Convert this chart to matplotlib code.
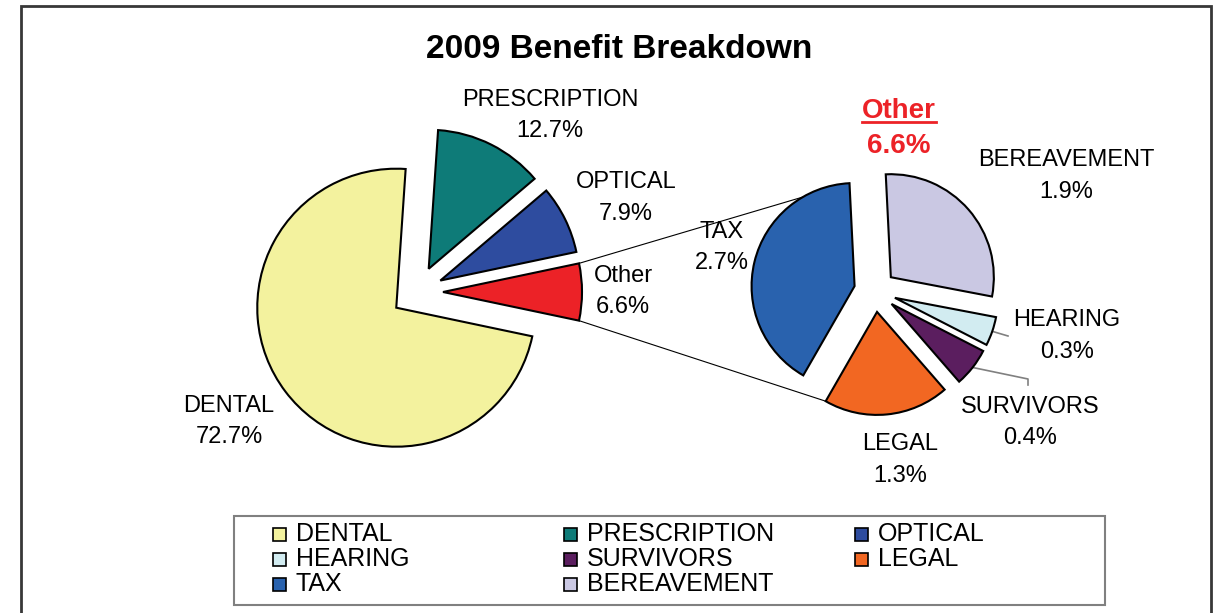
import matplotlib
matplotlib.use("Agg")
import numpy as np
import matplotlib.pyplot as plt
from matplotlib.patches import Rectangle

plt.rcParams["font.family"] = ["Liberation Sans", "DejaVu Sans"]

# ==========================================================
# DATA
# ==========================================================

title = "2009 Benefit Breakdown"

main_labels = ["DENTAL", "PRESCRIPTION", "OPTICAL"]
main_values = [72.7, 12.7, 7.9]

other_name = "Other"
other_labels = ["HEARING", "SURVIVORS", "LEGAL", "TAX", "BEREAVEMENT"]
other_values = [0.3, 0.4, 1.3, 2.7, 1.9]

colors = {
    "DENTAL": "#F3F29E",
    "PRESCRIPTION": "#0E7B78",
    "OPTICAL": "#2E4C9F",
    "Other": "#EC2227",
    "HEARING": "#D2ECF1",
    "SURVIVORS": "#5B1E5F",
    "LEGAL": "#F26722",
    "TAX": "#2962AE",
    "BEREAVEMENT": "#CAC8E3",
}

# ==========================================================
# LAYOUT (pixel units, image y measured from top)
# ==========================================================

W, H = 1223, 613

label_pos = {
    "DENTAL": (229, 411.5),
    "PRESCRIPTION": (550, 105.5),
    "OPTICAL": (626, 188.5),
    "Other": (623, 281.5),
    "TAX": (722, 237.5),
    "BEREAVEMENT": (1066, 166),
    "HEARING": (1067, 326),
    "SURVIVORS": (1030, 413),
    "LEGAL": (900, 450),
}

leader_ends = {
    "HEARING": [(1008, 336)],
    "SURVIVORS": [(1028, 379), (1028, 385)],
}


def iy(y):
    return H - y


fig = plt.figure(figsize=(W / 100, H / 100), dpi=100)
ax = fig.add_axes([0, 0, 1, 1])

edge = dict(edgecolor="black", linewidth=1.5)

# main pie
main_vals = main_values + [round(sum(other_values), 1)]
main_names = main_labels + [other_name]
main_start = -0.5 * 360 * main_vals[-1] / sum(main_vals)

wedges1, _ = ax.pie(
    main_vals,
    colors=[colors[n] for n in main_names],
    explode=[26] * len(main_vals),
    radius=139,
    center=(417, iy(292)),
    startangle=main_start,
    counterclock=False,
    wedgeprops=edge
)

# secondary pie
wedges2, _ = ax.pie(
    other_values,
    colors=[colors[n] for n in other_labels],
    explode=[21] * len(other_values),
    radius=103,
    center=(875, iy(291)),
    startangle=-10.8,
    counterclock=False,
    wedgeprops=edge
)

ax.set_xlim(0, W)
ax.set_ylim(0, H)
ax.set_aspect("equal")
ax.axis("off")


def rim_point(w, ang):
    a = np.radians(ang)
    return (w.center[0] + w.r * np.cos(a),
            w.center[1] + w.r * np.sin(a))


# connector lines
other_w = wedges1[-1]
tax_w = wedges2[other_labels.index("TAX")]
legal_w = wedges2[other_labels.index("LEGAL")]

p_top = rim_point(other_w, other_w.theta2)
p_bot = rim_point(other_w, other_w.theta1)
q_top = rim_point(tax_w, tax_w.theta1)
q_bot = rim_point(legal_w, legal_w.theta1)

for p, q in [(p_top, q_top), (p_bot, q_bot)]:
    ax.plot([p[0], q[0]], [p[1], q[1]],
            color="black", lw=0.8, zorder=0.5)

# leader lines
for name, ends in leader_ends.items():
    w = wedges2[other_labels.index(name)]
    start = rim_point(w, 0.5 * (w.theta1 + w.theta2))
    xs = [start[0]] + [e[0] for e in ends]
    ys = [start[1]] + [iy(e[1]) for e in ends]
    ax.plot(xs, ys, color="#808080", lw=1.2, zorder=0.5)

# slice labels
all_names = main_names + other_labels
all_vals = main_vals + other_values

for name, val in zip(all_names, all_vals):
    x, y = label_pos[name]
    ax.text(x, iy(y), name, ha="center", va="baseline",
            fontsize=17)
    ax.text(x, iy(y + 31.5), f"{val:.1f}%", ha="center",
            va="baseline", fontsize=17)

# red "Other" heading over the second pie
red = colors["Other"]
t_other = ax.text(899, iy(118), other_name, ha="center",
                  va="baseline", fontsize=20, fontweight="bold",
                  color=red)
ax.text(899, iy(153), f"{sum(other_values):.1f}%", ha="center",
        va="baseline", fontsize=20, fontweight="bold", color=red)

fig.canvas.draw()
bb = t_other.get_window_extent().transformed(ax.transData.inverted())
ax.plot([bb.x0, bb.x1], [iy(121.5), iy(121.5)], color=red, lw=2)

# title
ax.text(619, iy(58), title, ha="center", va="baseline",
        fontsize=24, fontweight="bold")

# legend (row-major, three columns)
legend_names = main_labels + other_labels
col_x = [273, 564, 855]
row_base = [541, 566, 591]

ax.add_patch(Rectangle((234, iy(605)), 871, 89, fill=False,
                       edgecolor="#808080", lw=1.5))

for i, name in enumerate(legend_names):
    r, c = divmod(i, 3)
    ax.add_patch(Rectangle((col_x[c], iy(row_base[r])), 13, 13,
                           facecolor=colors[name],
                           edgecolor="black", lw=1.2))
    ax.text(col_x[c] + 23, iy(row_base[r]), name,
            ha="left", va="baseline", fontsize=18)

# outer chart border
ax.add_patch(Rectangle((21, -20), 1190, iy(6) + 20, fill=False,
                       edgecolor="#383838", lw=2))

fig.savefig("out.png", dpi=100)
